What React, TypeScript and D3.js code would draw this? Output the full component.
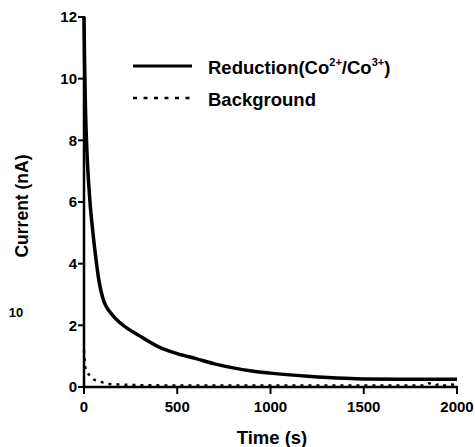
import React from "react";
import * as d3 from "d3";

const reductionTime = [0, 3, 8, 16, 25, 32, 48, 65, 80, 100, 150, 200, 300, 400, 500, 600, 700, 800, 900, 1000, 1200, 1400, 1500, 1700, 2000];
const reductionCurrent = [12, 10.6, 9.0, 7.6, 6.6, 6.0, 5.0, 4.1, 3.45, 2.9, 2.35, 2.05, 1.65, 1.3, 1.08, 0.92, 0.75, 0.62, 0.52, 0.45, 0.35, 0.28, 0.26, 0.25, 0.25];

const backgroundTime = [0, 3, 8, 15, 27, 50, 75, 130, 200, 300, 500, 800, 1100, 1400, 1700, 1820, 1850, 1880, 1910, 1940, 1970, 2000];
const backgroundCurrent = [1.2, 0.9, 0.6, 0.48, 0.4, 0.25, 0.2, 0.1, 0.08, 0.06, 0.05, 0.05, 0.05, 0.05, 0.05, 0.05, 0.12, 0.05, 0.1, 0.05, 0.08, 0.05];

const xTicks = [0, 500, 1000, 1500, 2000];
const yTicks = [0, 2, 4, 6, 8, 10, 12];

const FONT = "'Liberation Sans', Arial, sans-serif";

export default function App() {
  const x = d3.scaleLinear().domain([0, 2000]).range([84, 457]);
  const y = d3.scaleLinear().domain([0, 12]).range([387, 17]);

  const red = reductionTime.map((t, i) => [t, reductionCurrent[i]] as [number, number]);
  const bg = backgroundTime.map((t, i) => [t, backgroundCurrent[i]] as [number, number]);
  const line = d3
    .line<[number, number]>()
    .x((d) => x(d[0]))
    .y((d) => y(d[1]))
    .curve(d3.curveMonotoneX);

  return (
    <svg
      width={475}
      height={447}
      style={{ position: "absolute", left: 0, top: 0, background: "#fff" }}
      fontFamily={FONT}
      fontWeight="bold"
    >
      <rect width={475} height={447} fill="#fff" />
      {/* data */}
      <path d={line(bg) || ""} fill="none" stroke="#000" strokeWidth={2.5} strokeDasharray="3,5" />
      <path d={line(red) || ""} fill="none" stroke="#000" strokeWidth={3.5} strokeLinejoin="round" />

      {/* axes */}
      <line x1={x(0)} x2={x(0)} y1={y(12) - 1} y2={y(0) + 1} stroke="#000" strokeWidth={2.5} />
      <line x1={x(0) - 1} x2={x(2000) + 1} y1={y(0)} y2={y(0)} stroke="#000" strokeWidth={2.5} />
      {yTicks.map((v) => (
        <g key={"y" + v}>
          <line x1={x(0) - 6} x2={x(0)} y1={y(v)} y2={y(v)} stroke="#000" strokeWidth={2} />
          <text x={x(0) - 7} y={y(v)} dy="0.36em" textAnchor="end" fontSize={15}>
            {v}
          </text>
        </g>
      ))}
      {xTicks.map((v) => (
        <g key={"x" + v}>
          <line x1={x(v)} x2={x(v)} y1={y(0)} y2={y(0) + 7} stroke="#000" strokeWidth={2} />
          <text x={x(v)} y={y(0) + 20} dy="0.36em" textAnchor="middle" fontSize={15}>
            {v}
          </text>
        </g>
      ))}

      <text x={272} y={437} dy="0.36em" textAnchor="middle" fontSize={18.5}>
        Time (s)
      </text>
      <text
        transform="translate(22,206) rotate(-90)"
        dy="0.36em"
        textAnchor="middle"
        fontSize={17.5}
      >
        Current (nA)
      </text>
      <text x={16} y={312} dy="0.36em" textAnchor="middle" fontSize={13}>
        10
      </text>

      {/* legend */}
      <line x1={133} x2={192} y1={66} y2={66} stroke="#000" strokeWidth={3} />
      <text x={208} y={67} dy="0.36em" fontSize={18.5}>
        Reduction(Co<tspan dy="-8" fontSize={11}>2+</tspan>
        <tspan dy="8">/Co</tspan>
        <tspan dy="-8" fontSize={11}>3+</tspan>
        <tspan dy="8">)</tspan>
      </text>
      <line x1={133} x2={192} y1={98} y2={98} stroke="#000" strokeWidth={2.5} strokeDasharray="4,6.5" />
      <text x={208} y={99} dy="0.36em" fontSize={18.5}>
        Background
      </text>
    </svg>
  );
}
